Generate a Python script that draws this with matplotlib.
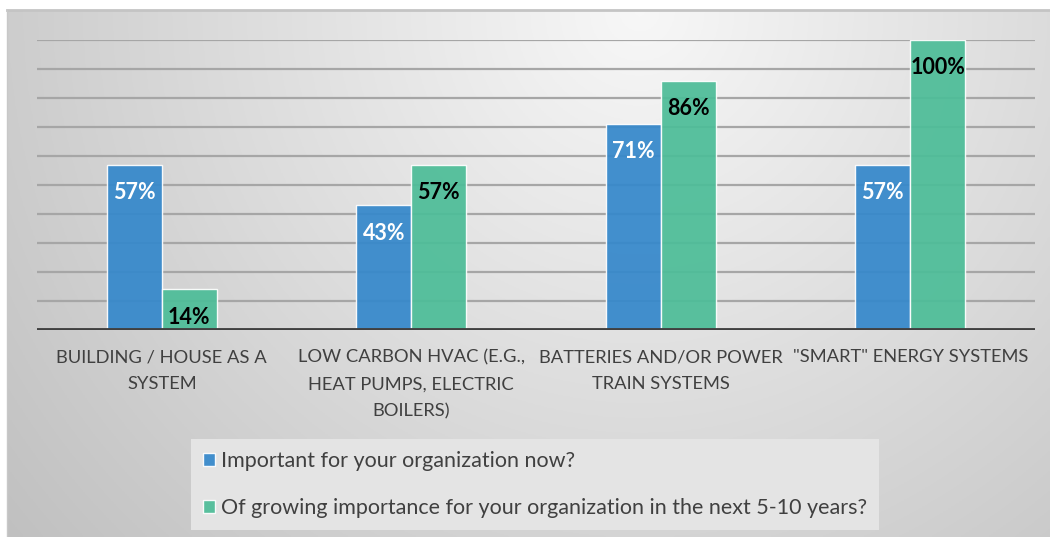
import numpy as np
import matplotlib
matplotlib.use("Agg")
import matplotlib.pyplot as plt

categories = ["BUILDING / HOUSE AS A\nSYSTEM",
              "LOW CARBON HVAC (E.G.,\nHEAT PUMPS, ELECTRIC\nBOILERS)",
              "BATTERIES AND/OR POWER\nTRAIN SYSTEMS",
              "\"SMART\" ENERGY SYSTEMS"]
series_names = ["Important for your organization now?",
                "Of growing importance for your organization in the next 5-10 years?"]
now_values = [57, 43, 71, 57]
future_values = [14, 57, 86, 100]
grid_ticks = [10, 20, 30, 40, 50, 60, 70, 80, 90, 100]

plt.rcParams['font.family'] = ['Lato', 'DejaVu Sans']

W, H = 1050, 537
fig = plt.figure(figsize=(W / 100, H / 100), dpi=100)
fig.patch.set_facecolor('white')

# gradient background panel
bx0, by0, bx1, by1 = 7, 10, 1050, 537
bg = fig.add_axes([bx0 / W, 1 - by1 / H, (bx1 - bx0) / W, (by1 - by0) / H])
bg.set_axis_off()
xs = np.linspace(bx0, bx1, 400)
ys = np.linspace(by0, by1, 220)
X, Y = np.meshgrid(xs, ys)
d = np.sqrt((X - 640) ** 2 + (Y - 10) ** 2)
v = 0.97 - 0.21 * np.clip(d / 800, 0, 1.2)
img = np.dstack([v, v, v])
bg.imshow(img, extent=[0, 1, 0, 1], origin='upper', aspect='auto', zorder=0)
bg.set_xlim(0, 1)
bg.set_ylim(0, 1)
bg.plot([0, 1], [1, 1], color='#c4c4c4', lw=2, zorder=1, clip_on=False)
bg.plot([0, 0], [0, 1], color='#c8c8c8', lw=1, zorder=1, clip_on=False)

# main plot
ax = fig.add_axes([37 / W, 1 - 330 / H, 998 / W, 290 / H])
ax.patch.set_alpha(0)
x = np.arange(len(categories))
w = 0.22
blue = '#3588cb'
green = '#4dbd98'
b1 = ax.bar(x - w / 2, now_values, w, color=blue, alpha=0.93,
            edgecolor=(1, 1, 1, 0.7), linewidth=1.0, zorder=2,
            label=series_names[0])
b2 = ax.bar(x + w / 2, future_values, w, color=green, alpha=0.93,
            edgecolor=(1, 1, 1, 0.7), linewidth=1.0, zorder=2,
            label=series_names[1])

for gt in grid_ticks:
    ax.axhline(gt, color='#a6a6a6', lw=1.6, zorder=1)
ax.axhline(0, color='#404040', lw=3.5, zorder=3)

ax.set_xlim(-0.5, len(categories) - 0.5)
ax.set_ylim(0, 100)
ax.set_yticks([])
for s in ax.spines.values():
    s.set_visible(False)
ax.set_xticks(x)
ax.set_xticklabels(categories, fontsize=13.2, color='#404040', linespacing=1.85,
                   ha='center', va='top')
ax.tick_params(axis='x', length=0, pad=14)

for bars, vals, col in ((b1, now_values, 'white'), (b2, future_values, 'black')):
    for rect, val in zip(bars, vals):
        ax.annotate(f"{val}%", (rect.get_x() + rect.get_width() / 2, val),
                    xytext=(0, -20), textcoords='offset points',
                    ha='center', va='center', fontsize=15.5, fontweight='bold',
                    color=col, zorder=4)

leg = fig.legend(handles=[b1, b2], labels=series_names,
                 loc='upper left', bbox_to_anchor=(191 / W, 1 - 439 / H),
                 bbox_transform=fig.transFigure, borderaxespad=0,
                 fontsize=15.5, frameon=True, fancybox=False,
                 facecolor='#e4e4e4', edgecolor='none', framealpha=1,
                 handlelength=0.55, handleheight=0.55, handletextpad=0.3,
                 labelspacing=1.25, borderpad=0.55, labelcolor='#404040')

fig.savefig('out.png', dpi=100)
